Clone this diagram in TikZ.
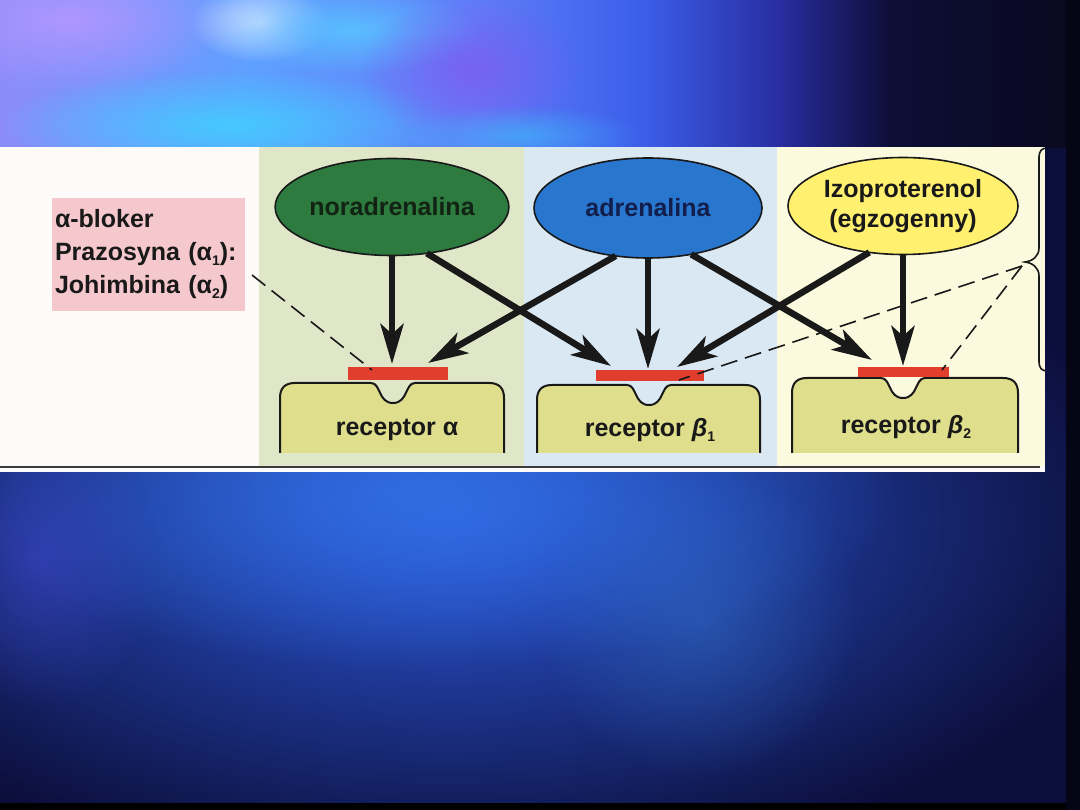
\documentclass[tikz,border=0pt]{standalone}
\usepackage{fontspec}
\setmainfont{Liberation Sans}
\usetikzlibrary{shapes.geometric,arrows.meta,fadings}

\definecolor{bgbase}{RGB}{12,14,58}
\definecolor{bgedge}{RGB}{5,5,22}
\definecolor{panelwhite}{RGB}{253,250,250}
\definecolor{greenbg}{RGB}{224,230,200}
\definecolor{bluebg}{RGB}{218,232,243}
\definecolor{yellowbg}{RGB}{251,249,222}
\definecolor{pinkfill}{RGB}{245,200,205}
\definecolor{norgreen}{RGB}{45,123,62}
\definecolor{adrblue}{RGB}{40,118,205}
\definecolor{izoyellow}{RGB}{255,240,112}
\definecolor{rcpfill}{RGB}{222,222,140}
\definecolor{redbarc}{RGB}{226,62,46}
\definecolor{inkdark}{RGB}{25,25,25}
\definecolor{nortext}{RGB}{18,35,20}
\definecolor{adrtext}{RGB}{18,30,75}
\definecolor{baseline}{RGB}{60,60,60}

\tikzfading[name=glowfade, inner color=transparent!0, outer color=transparent!100]

\newcommand\lblfont{\bfseries\fontsize{25}{30}\selectfont}
\newcommand\pinkfont{\bfseries\fontsize{25}{33}\selectfont}
\newcommand\lowidx[1]{\raisebox{-0.35ex}{\fontsize{14}{14}\selectfont #1}}

\newcommand\rcpbox[4]{%
  \fill[rcpfill] (#1,453) -- (#1,#3+15) .. controls (#1,#3+5) and (#1+5,#3) .. (#1+15,#3)
    -- (#4-22,#3) .. controls (#4-12,#3) and (#4-15,#3+20) .. (#4,#3+20)
    .. controls (#4+15,#3+20) and (#4+12,#3) .. (#4+22,#3)
    -- (#2-15,#3) .. controls (#2-5,#3) and (#2,#3+5) .. (#2,#3+15) -- (#2,453) -- cycle;
  \draw[rcpline] (#1,453) -- (#1,#3+15) .. controls (#1,#3+5) and (#1+5,#3) .. (#1+15,#3)
    -- (#4-22,#3) .. controls (#4-12,#3) and (#4-15,#3+20) .. (#4,#3+20)
    .. controls (#4+15,#3+20) and (#4+12,#3) .. (#4+22,#3)
    -- (#2-15,#3) .. controls (#2-5,#3) and (#2,#3+5) .. (#2,#3+15) -- (#2,453);
}

\begin{document}
\begin{tikzpicture}[x=1pt,y=-1pt,
  molecule/.style={ellipse, draw=inkdark, line width=1.6pt, minimum width=230pt,
    minimum height=97pt, inner sep=0pt, outer sep=0pt, font=\lblfont, align=center},
  bigarrow/.style={-{Stealth[length=40pt,width=23pt,inset=10pt]}, line width=6.5pt, draw=inkdark},
  dashline/.style={line width=1.6pt, draw=inkdark, dash pattern=on 17pt off 8pt},
  redbar/.style={rectangle, fill=redbarc, inner sep=0pt, outer sep=0pt},
  rcpline/.style={line width=2pt, draw=inkdark},
  rcptext/.style={font=\lblfont, text=inkdark, inner sep=0pt},
  glow/.style={path fading=glowfade}
]
\useasboundingbox (0,0) rectangle (1080,810);

% ---------- background ----------
\fill[bgbase] (0,0) rectangle (1080,810);
% top band
\shade[left color={rgb,255:red,140;green,140;blue,250}, right color={rgb,255:red,95;green,160;blue,255}] (0,0) rectangle (251,148);
\shade[left color={rgb,255:red,95;green,160;blue,255}, right color={rgb,255:red,95;green,125;blue,248}] (250,0) rectangle (481,148);
\shade[left color={rgb,255:red,95;green,125;blue,248}, right color={rgb,255:red,60;green,95;blue,235}] (480,0) rectangle (641,148);
\shade[left color={rgb,255:red,60;green,95;blue,235}, right color={rgb,255:red,40;green,45;blue,160}] (640,0) rectangle (781,148);
\shade[left color={rgb,255:red,40;green,45;blue,160}, right color={rgb,255:red,14;green,14;blue,55}] (780,0) rectangle (891,148);
\shade[left color={rgb,255:red,14;green,14;blue,55}, right color={rgb,255:red,8;green,8;blue,30}] (890,0) rectangle (1080,148);
\fill[glow, color={rgb,255:red,175;green,150;blue,255}] (70,20) ellipse (160 and 70);
\fill[glow, color={rgb,255:red,210;green,225;blue,255}] (260,22) ellipse (70 and 40);
\fill[glow, color={rgb,255:red,70;green,200;blue,255}] (230,125) ellipse (230 and 55);
\fill[glow, color={rgb,255:red,90;green,190;blue,255}] (350,30) ellipse (130 and 45);
\fill[glow, color={rgb,255:red,130;green,85;blue,240}, opacity=0.7] (470,70) ellipse (110 and 75);
\fill[glow, color={rgb,255:red,60;green,190;blue,250}, opacity=0.6] (520,135) ellipse (120 and 30);
% bottom band
\fill[glow, color={rgb,255:red,45;green,90;blue,222}] (450,520) ellipse (700 and 360);
\fill[glow, color={rgb,255:red,50;green,115;blue,230}, opacity=0.8] (420,490) ellipse (480 and 180);
\fill[glow, color={rgb,255:red,60;green,70;blue,200}, opacity=0.6] (40,560) ellipse (120 and 150);
\fill[glow, color={rgb,255:red,50;green,110;blue,200}, opacity=0.5] (700,620) ellipse (160 and 160);
\fill[black] (0,803) rectangle (1080,810);
\fill[bgedge] (1066,0) rectangle (1080,810);

% ---------- panel ----------
\fill[panelwhite] (0,147) rectangle (1045,472);
\fill[greenbg] (259,147) rectangle (524,466);
\fill[bluebg] (524,147) rectangle (777,466);
\fill[yellowbg] (777,147) rectangle (1045,466);
\draw[line width=2.5pt, draw=baseline] (0,467) -- (1040,467);

% brace
\begin{scope}
  \clip (0,147) rectangle (1045,472);
  \draw[line width=1.6pt, draw=inkdark]
    (1047,148) .. controls (1042,148) and (1039,151) .. (1039,157) -- (1039,248)
    .. controls (1039,256) and (1033,261) .. (1025,262)
    .. controls (1033,263) and (1039,268) .. (1039,276) -- (1039,362)
    .. controls (1039,368) and (1042,371) .. (1047,371);
\end{scope}
\coordinate (bt) at (1022,266);

% pink label
\node[fill=pinkfill, minimum width=193pt, minimum height=113pt, inner sep=0pt,
      text width=187pt, align=left, font=\pinkfont, text=inkdark] (pink) at (148.5,254.5)
  {α-bloker\\Prazosyna (α\lowidx{1}):\\Johimbina (α\lowidx{2})};

% receptors
\rcpbox{280}{504}{383}{393}
\rcpbox{537}{760}{385}{649}
\rcpbox{792}{1018}{378}{903}
\node[rcptext] (txa) at (397,430) {receptor α};
\node[rcptext] (txb1) at (650,430) {receptor \textit{β}\lowidx{1}};
\node[rcptext] (txb2) at (906,427) {receptor \textit{β}\lowidx{2}};

% red binding sites
\node[redbar, minimum width=100pt, minimum height=13pt] (ra) at (398,373.5) {};
\node[redbar, minimum width=108pt, minimum height=11pt] (rb1) at (650,375.5) {};
\node[redbar, minimum width=91pt, minimum height=10pt] (rb2) at (903.5,372) {};

% molecules
\node[molecule, fill=norgreen, text=nortext] (nor) at (392,207) {noradrenalina};
\node[molecule, fill=adrblue, text=adrtext, minimum width=228pt, minimum height=100pt] (adr) at (648,208) {adrenalina};
\node[molecule, fill=izoyellow, text=inkdark] (izo) at (903,206) {Izoproterenol\\(egzogenny)};

% arrow targets
\coordinate (t1) at (392,364);
\coordinate (t2) at (611,366);
\coordinate (t3) at (428,363);
\coordinate (t4) at (648,369);
\coordinate (t5) at (872,360);
\coordinate (t6) at (677,367);
\coordinate (t7) at (903,366);

\draw[bigarrow] (nor.south) -- (t1);
\draw[bigarrow] (nor.-53.5) -- (t2);
\draw[bigarrow] (adr.-124.8) -- (t3);
\draw[bigarrow] (adr.south) -- (t4);
\draw[bigarrow] (adr.-47.6) -- (t5);
\draw[bigarrow] (izo.-126) -- (t6);
\draw[bigarrow] (izo.south) -- (t7);

% dashed blocker lines
\coordinate (d0) at (252,275);
\coordinate (e1) at (372,370);
\coordinate (e2) at (679,380);
\coordinate (e3) at (942,370);
\draw[dashline] (d0) -- (e1);
\draw[dashline] (bt) -- (e2);
\draw[dashline] (bt) -- (e3);
\end{tikzpicture}
\end{document}
